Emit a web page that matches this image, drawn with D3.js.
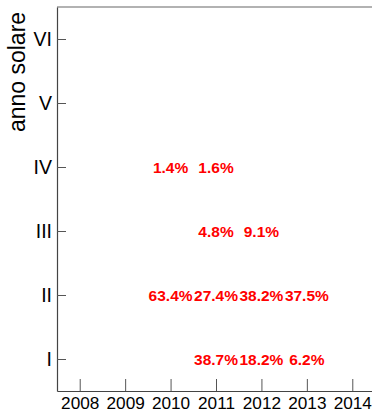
<!DOCTYPE html>
<html><head><meta charset="utf-8">
<script src="https://cdn.jsdelivr.net/npm/d3@7"></script>
<style>body{margin:0;background:#fff}svg{display:block}</style>
</head><body>
<script>
const years = [2008, 2009, 2010, 2011, 2012, 2013, 2014];
const classes = ["I", "II", "III", "IV", "V", "VI"];
const valuesI   = [null, null, null, 38.7, 18.2, 6.2, null];
const valuesII  = [null, null, 63.4, 27.4, 38.2, 37.5, null];
const valuesIII = [null, null, null, 4.8, 9.1, null, null];
const valuesIV  = [null, null, 1.4, 1.6, null, null, null];
const valuesV   = [null, null, null, null, null, null, null];
const valuesVI  = [null, null, null, null, null, null, null];
const seriesByClass = [valuesI, valuesII, valuesIII, valuesIV, valuesV, valuesVI];

const W = 372, H = 412;
const m = {left: 57, top: 7, right: -3, bottom: 21};
const svg = d3.select("body").append("svg").attr("width", W).attr("height", H);
const x = d3.scaleLinear().domain([2007.5, 2014.5]).range([m.left, W - m.right]);
const y = d3.scaleLinear().domain([0.5, 6.5]).range([H - m.bottom, m.top]);

const font = "'Liberation Sans', Arial, Helvetica, sans-serif";

// top border
svg.append("line").attr("x1", m.left).attr("x2", W - m.right)
  .attr("y1", m.top).attr("y2", m.top)
  .attr("stroke", "#999").attr("stroke-width", 1.5);

const xAxis = svg.append("g").attr("transform", `translate(0,${H - m.bottom})`)
  .call(d3.axisBottom(x).tickValues(years).tickFormat(d3.format("d")).tickSizeInner(-12).tickSizeOuter(0).tickPadding(0));
const yAxis = svg.append("g").attr("transform", `translate(${m.left},0)`)
  .call(d3.axisLeft(y).tickValues(d3.range(1, 7)).tickFormat(d => classes[d - 1]).tickSizeInner(-9).tickSizeOuter(0).tickPadding(5));

[xAxis, yAxis].forEach(g => {
  g.select(".domain").attr("stroke", "#444").attr("stroke-width", 1.2);
  g.selectAll(".tick line").attr("stroke", "#555").attr("stroke-width", 1);
  g.selectAll(".tick text").attr("fill", "#000").attr("font-family", font);
});
xAxis.selectAll(".tick text").attr("font-size", 17.2).attr("dy", null).attr("y", 17.5);
yAxis.selectAll(".tick text").attr("font-size", 19.5);

svg.append("text")
  .attr("transform", `translate(25,${(8 + 136) / 2}) rotate(-90)`)
  .attr("text-anchor", "middle")
  .attr("font-family", font).attr("font-size", 23).attr("fill", "#000")
  .text("anno solare");

const cells = [];
seriesByClass.forEach((vals, ci) => vals.forEach((v, yi) => {
  if (v != null) cells.push({cls: ci + 1, year: years[yi], v});
}));
svg.append("g").selectAll("text").data(cells).join("text")
  .attr("x", d => x(d.year)).attr("y", d => y(d.cls))
  .attr("dy", "0.36em")
  .attr("text-anchor", "middle")
  .attr("font-family", font).attr("font-weight", "bold").attr("font-size", 15.5)
  .attr("fill", "#ff0000")
  .text(d => d3.format(".1f")(d.v) + "%");
</script>
</body></html>
